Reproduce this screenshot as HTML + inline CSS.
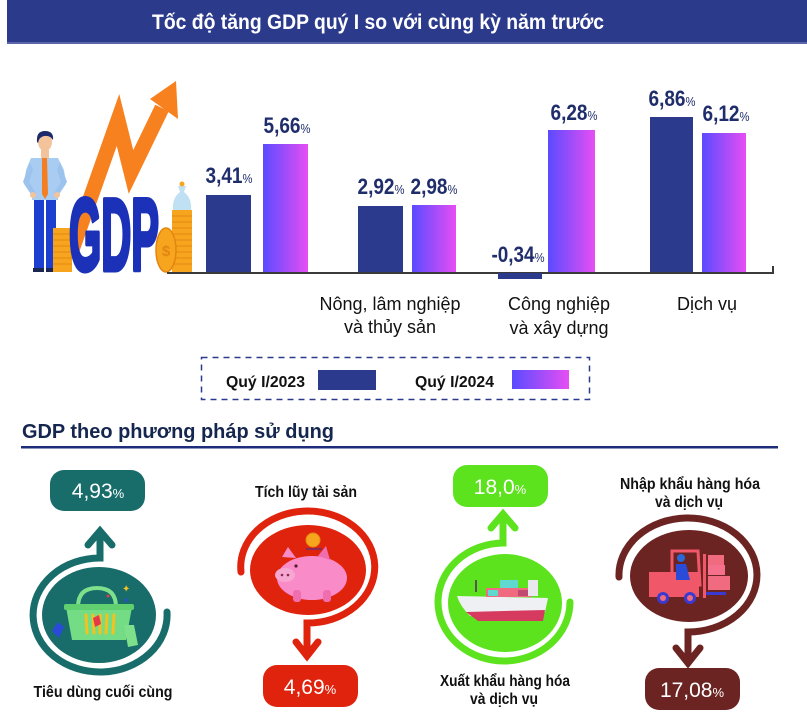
<!DOCTYPE html>
<html><head><meta charset="utf-8"><style>
html,body{margin:0;padding:0;background:#fff;}
svg{display:block;font-family:"Liberation Sans","DejaVu Sans",sans-serif;}
</style></head><body>
<svg width="807" height="713" viewBox="0 0 807 713" xmlns="http://www.w3.org/2000/svg">
<defs>
<linearGradient id="g" x1="0" x2="1" y1="0" y2="0"><stop offset="0" stop-color="#5a4bff"/><stop offset="1" stop-color="#e64ef3"/></linearGradient>
</defs>
<rect width="807" height="713" fill="#fff"/>
<!-- header -->
<rect x="7" y="0" width="800" height="44" fill="#2c3a8c"/>
<rect x="7" y="42" width="800" height="2" fill="#5a66a8"/>
<text x="378" y="29" text-anchor="middle" font-size="21" font-weight="bold" fill="#fff" textLength="452" lengthAdjust="spacingAndGlyphs">Tốc độ tăng GDP quý I so với cùng kỳ năm trước</text>

<!-- illustration -->
<polyline points="72,250 118,120 131,172 162,108" fill="none" stroke="#f7811f" stroke-width="15" stroke-linejoin="miter" stroke-miterlimit="10"/>
<polygon points="176,81 150,99 178,119" fill="#f7811f"/>
<!-- person -->
<rect x="34" y="198" width="10" height="72" fill="#1c3fd0"/>
<rect x="46" y="198" width="10" height="72" fill="#1c3fd0"/>
<rect x="33" y="268" width="11" height="4" fill="#1a2550"/>
<rect x="46" y="268" width="11" height="4" fill="#1a2550"/>
<path d="M31,158 L58,158 L64,170 L66,184 L58,196 L58,200 L32,200 L32,196 L24,184 L26,170 Z" fill="#a9cdf2"/>
<path d="M30,162 L23,182 L33,196 L36,193 L29,182 L33,170 Z" fill="#9cc3ee"/>
<path d="M60,162 L67,182 L57,196 L54,193 L61,182 L57,170 Z" fill="#9cc3ee"/>
<circle cx="33" cy="195" r="3" fill="#f3c39b"/>
<circle cx="57" cy="195" r="3" fill="#f3c39b"/>
<polygon points="42,158 47,158 48,194 45,199 42,194" fill="#f57f20"/>
<rect x="41" y="150" width="8" height="8" fill="#f3c39b"/>
<ellipse cx="45" cy="142" rx="7" ry="9" fill="#f3c39b"/>
<path d="M37,142 Q36,131 45,131 Q54,131 53,140 Q50,135 44,136 Q39,137 38,143 Z" fill="#1a2a6a"/>
<!-- coins left -->
<rect x="53" y="228" width="19" height="44" fill="#f7a51f"/>
<g stroke="#e3860f" stroke-width="1">
<line x1="53" y1="234" x2="72" y2="234"/><line x1="53" y1="240" x2="72" y2="240"/><line x1="53" y1="246" x2="72" y2="246"/><line x1="53" y1="252" x2="72" y2="252"/><line x1="53" y1="258" x2="72" y2="258"/><line x1="53" y1="264" x2="72" y2="264"/>
</g>
<text x="69" y="270" font-size="102" font-weight="bold" fill="#1a31b8" stroke="#1a31b8" stroke-width="5" stroke-linejoin="round" textLength="90" lengthAdjust="spacingAndGlyphs">GDP</text>
<!-- right coins -->
<rect x="172" y="210" width="20" height="62" fill="#f7a51f"/>
<g stroke="#e3860f" stroke-width="1">
<line x1="172" y1="216" x2="192" y2="216"/><line x1="172" y1="222" x2="192" y2="222"/><line x1="172" y1="228" x2="192" y2="228"/><line x1="172" y1="234" x2="192" y2="234"/><line x1="172" y1="240" x2="192" y2="240"/><line x1="172" y1="246" x2="192" y2="246"/><line x1="172" y1="252" x2="192" y2="252"/><line x1="172" y1="258" x2="192" y2="258"/><line x1="172" y1="264" x2="192" y2="264"/>
</g>
<ellipse cx="166" cy="250" rx="10" ry="22" fill="#f7a51f" stroke="#e3860f" stroke-width="1.5"/>
<text x="166" y="256" text-anchor="middle" font-size="15" font-weight="bold" fill="#e3860f">$</text>
<path d="M178,186 L186,186 L184,192 Q192,198 191,210 L173,210 Q172,198 180,192 Z" fill="#bfe1f3"/>
<circle cx="182" cy="184" r="2.5" fill="#f7a51f"/>

<!-- axis -->
<line x1="167" y1="273" x2="773" y2="273" stroke="#3a3a3a" stroke-width="2"/>
<line x1="773" y1="266" x2="773" y2="274" stroke="#3a3a3a" stroke-width="2"/>

<!-- bars -->
<rect x="206" y="195" width="45" height="77" fill="#2b3a8c"/>
<rect x="263" y="144" width="45" height="128" fill="url(#g)"/>
<rect x="358" y="206" width="45" height="66" fill="#2b3a8c"/>
<rect x="412" y="205" width="44" height="67" fill="url(#g)"/>
<rect x="498" y="273" width="44" height="6" fill="#2b3a8c"/>
<rect x="548" y="130" width="47" height="142" fill="url(#g)"/>
<rect x="650" y="117" width="43" height="155" fill="#2b3a8c"/>
<rect x="702" y="133" width="44" height="139" fill="url(#g)"/>

<g font-weight="bold" fill="#1f2d6b" font-size="22" text-anchor="middle">
<text x="229" y="183" textLength="47" lengthAdjust="spacingAndGlyphs">3,41<tspan font-size="13" font-weight="normal">%</tspan></text>
<text x="287" y="133" textLength="47" lengthAdjust="spacingAndGlyphs">5,66<tspan font-size="13" font-weight="normal">%</tspan></text>
<text x="381" y="194" textLength="47" lengthAdjust="spacingAndGlyphs">2,92<tspan font-size="13" font-weight="normal">%</tspan></text>
<text x="434" y="194" textLength="47" lengthAdjust="spacingAndGlyphs">2,98<tspan font-size="13" font-weight="normal">%</tspan></text>
<text x="518" y="262" textLength="53" lengthAdjust="spacingAndGlyphs">-0,34<tspan font-size="13" font-weight="normal">%</tspan></text>
<text x="574" y="120" textLength="47" lengthAdjust="spacingAndGlyphs">6,28<tspan font-size="13" font-weight="normal">%</tspan></text>
<text x="672" y="106" textLength="47" lengthAdjust="spacingAndGlyphs">6,86<tspan font-size="13" font-weight="normal">%</tspan></text>
<text x="726" y="121" textLength="47" lengthAdjust="spacingAndGlyphs">6,12<tspan font-size="13" font-weight="normal">%</tspan></text>
</g>

<g font-size="18" fill="#111" text-anchor="middle">
<text x="390" y="310">Nông, lâm nghiệp</text>
<text x="390" y="333">và thủy sản</text>
<text x="559" y="310">Công nghiệp</text>
<text x="559" y="334">và xây dựng</text>
<text x="707" y="310">Dịch vụ</text>
</g>

<!-- legend -->
<rect x="201.5" y="357.5" width="388" height="42" fill="none" stroke="#2b3a8c" stroke-width="1.5" stroke-dasharray="6,5"/>
<text x="226" y="387" font-size="16" font-weight="bold" fill="#111" textLength="79" lengthAdjust="spacingAndGlyphs">Quý I/2023</text>
<rect x="318" y="370" width="58" height="20" fill="#2b3a8c"/>
<text x="415" y="387" font-size="16" font-weight="bold" fill="#111" textLength="79" lengthAdjust="spacingAndGlyphs">Quý I/2024</text>
<rect x="512" y="370" width="57" height="19" fill="url(#g)"/>

<!-- section heading -->
<text x="22" y="438" font-size="20" font-weight="bold" fill="#15264f" textLength="312" lengthAdjust="spacingAndGlyphs">GDP theo phương pháp sử dụng</text>
<rect x="21" y="446" width="757" height="2.5" fill="#1d2d7a"/>

<!-- 1 teal -->
<rect x="50" y="470" width="95" height="41" rx="14" fill="#186d6b"/>
<text x="98" y="498" text-anchor="middle" font-size="21" fill="#fff">4,93<tspan font-size="13">%</tspan></text>
<path d="M167,612 A67,57 0 1 1 100,558 L100,532" fill="none" stroke="#186d6b" stroke-width="7" stroke-linecap="round"/>
<polyline points="88,545 100,531 112,545" fill="none" stroke="#186d6b" stroke-width="7" stroke-linecap="round" stroke-linejoin="miter"/>
<ellipse cx="99" cy="615" rx="57" ry="48" fill="#186d6b"/>
<path d="M78,607 Q78,588 97,588 Q116,588 116,607" fill="none" stroke="#7ee08a" stroke-width="4"/>
<path d="M66,607 L132,607 L126,640 L72,640 Z" fill="#74dc84"/>
<rect x="64" y="604" width="70" height="6" rx="2" fill="#5fcf6f"/>
<g stroke="#f4c21f" stroke-width="3" stroke-linecap="round">
<line x1="86" y1="615" x2="87" y2="633"/><line x1="93" y1="615" x2="94" y2="633"/><line x1="100" y1="615" x2="100" y2="633"/><line x1="107" y1="615" x2="106" y2="633"/><line x1="114" y1="615" x2="113" y2="633"/>
</g>
<polygon points="52,631 58,622 64,627 59,638" fill="#2a4bd8"/>
<polygon points="93,618 99,615 101,624 95,627" fill="#e5394b"/>
<polygon points="124,625 134,625 138,645 128,647" fill="#7ee08a"/>
<text x="122" y="592" font-size="10" fill="#f4c21f">✦</text>
<circle cx="108" cy="596" r="1.5" fill="#e5394b"/>
<circle cx="126" cy="600" r="1.5" fill="#2a4bd8"/>
<text x="103" y="697" text-anchor="middle" font-size="16" font-weight="bold" fill="#111" textLength="139" lengthAdjust="spacingAndGlyphs">Tiêu dùng cuối cùng</text>

<!-- 2 red -->
<text x="306" y="497" text-anchor="middle" font-size="16" font-weight="bold" fill="#111" textLength="102" lengthAdjust="spacingAndGlyphs">Tích lũy tài sản</text>
<path d="M241,572 A67,56 0 1 1 307,623 L307,654" fill="none" stroke="#e0230c" stroke-width="7" stroke-linecap="round"/>
<polyline points="296,642 307,656 318,642" fill="none" stroke="#e0230c" stroke-width="7" stroke-linecap="round"/>
<ellipse cx="308" cy="570" rx="58" ry="45" fill="#e0230c"/>
<ellipse cx="312" cy="578" rx="35" ry="22" fill="#f98bc8"/>
<rect x="293" y="590" width="8" height="12" rx="3" fill="#f06eb0"/>
<rect x="323" y="590" width="8" height="12" rx="3" fill="#f06eb0"/>
<polygon points="282,557 288,547 296,558" fill="#f98bc8"/>
<polygon points="318,556 326,546 330,560" fill="#f06eb0"/>
<ellipse cx="285" cy="575" rx="10" ry="7" fill="#f6a7d2"/>
<circle cx="282" cy="575" r="1.3" fill="#8a2a50"/><circle cx="288" cy="575" r="1.3" fill="#8a2a50"/>
<circle cx="296" cy="566" r="1.6" fill="#5a1a30"/>
<circle cx="313" cy="540" r="7" fill="#f7a51f" stroke="#e3860f"/>
<rect x="306" y="548" width="16" height="2" fill="#8a2a50"/>
<rect x="263" y="665" width="95" height="42" rx="14" fill="#e0230c"/>
<text x="310" y="694" text-anchor="middle" font-size="21" fill="#fff">4,69<tspan font-size="13">%</tspan></text>

<!-- 3 green -->
<rect x="453" y="465" width="95" height="42" rx="14" fill="#5de31d"/>
<text x="500" y="494" text-anchor="middle" font-size="21" fill="#fff">18,0<tspan font-size="13">%</tspan></text>
<path d="M570,602 A66,59 0 1 1 503,543 L503,515" fill="none" stroke="#5de31d" stroke-width="7" stroke-linecap="round"/>
<polyline points="491,528 503,514 515,528" fill="none" stroke="#5de31d" stroke-width="7" stroke-linecap="round"/>
<ellipse cx="505" cy="603" rx="57" ry="49" fill="#5de31d"/>
<path d="M457,596 L548,598 L545,612 L470,616 Q460,606 457,596 Z" fill="#eef0f4"/>
<path d="M466,612 L545,610 L543,621 L478,621 Z" fill="#d63a5e"/>
<rect x="486" y="588" width="46" height="9" fill="#f06a80"/>
<rect x="500" y="580" width="18" height="8" fill="#5fd8cf"/>
<rect x="488" y="590" width="10" height="6" fill="#5fd8cf"/>
<rect x="518" y="590" width="10" height="6" fill="#c04a70"/>
<rect x="528" y="580" width="10" height="16" fill="#e8e8ee"/>
<rect x="475" y="580" width="2" height="12" fill="#555"/>
<text x="505" y="686" text-anchor="middle" font-size="16" font-weight="bold" fill="#111" textLength="130" lengthAdjust="spacingAndGlyphs">Xuất khẩu hàng hóa</text>
<text x="504" y="704" text-anchor="middle" font-size="16" font-weight="bold" fill="#111" textLength="68" lengthAdjust="spacingAndGlyphs">và dịch vụ</text>

<!-- 4 maroon -->
<text x="690" y="489" text-anchor="middle" font-size="16" font-weight="bold" fill="#111" textLength="140" lengthAdjust="spacingAndGlyphs">Nhập khẩu hàng hóa</text>
<text x="689" y="507" text-anchor="middle" font-size="16" font-weight="bold" fill="#111" textLength="68" lengthAdjust="spacingAndGlyphs">và dịch vụ</text>
<path d="M619,577 A69,57 0 1 1 688,632 L688,661" fill="none" stroke="#6b2422" stroke-width="7" stroke-linecap="round"/>
<polyline points="676,648 688,663 700,648" fill="none" stroke="#6b2422" stroke-width="7" stroke-linecap="round"/>
<ellipse cx="689" cy="576" rx="59" ry="46" fill="#6b2422"/>
<rect x="649" y="572" width="50" height="25" fill="#f0586a"/>
<path d="M672,551 L698,551 L700,585 L672,585 Z" fill="none" stroke="#f0586a" stroke-width="3"/>
<circle cx="681" cy="558" r="4" fill="#2a6ad8"/>
<path d="M676,564 L686,564 L690,580 L676,580 Z" fill="#2a4bd8"/>
<rect x="703" y="554" width="3" height="44" fill="#f0586a"/>
<rect x="706" y="592" width="20" height="3" fill="#3a3ad0"/>
<rect x="708" y="555" width="16" height="10" fill="#f06a80"/>
<rect x="708" y="565" width="17" height="10" fill="#f5708a"/>
<rect x="708" y="576" width="22" height="14" fill="#f06a80"/>
<circle cx="663" cy="598" r="6" fill="#3a3ad0"/><circle cx="663" cy="598" r="3" fill="#f06a80"/>
<circle cx="690" cy="598" r="6" fill="#3a3ad0"/><circle cx="690" cy="598" r="3" fill="#f06a80"/>
<rect x="645" y="668" width="95" height="42" rx="14" fill="#6b2422"/>
<text x="692" y="697" text-anchor="middle" font-size="21" fill="#fff">17,08<tspan font-size="13">%</tspan></text>
</svg>
</body></html>
